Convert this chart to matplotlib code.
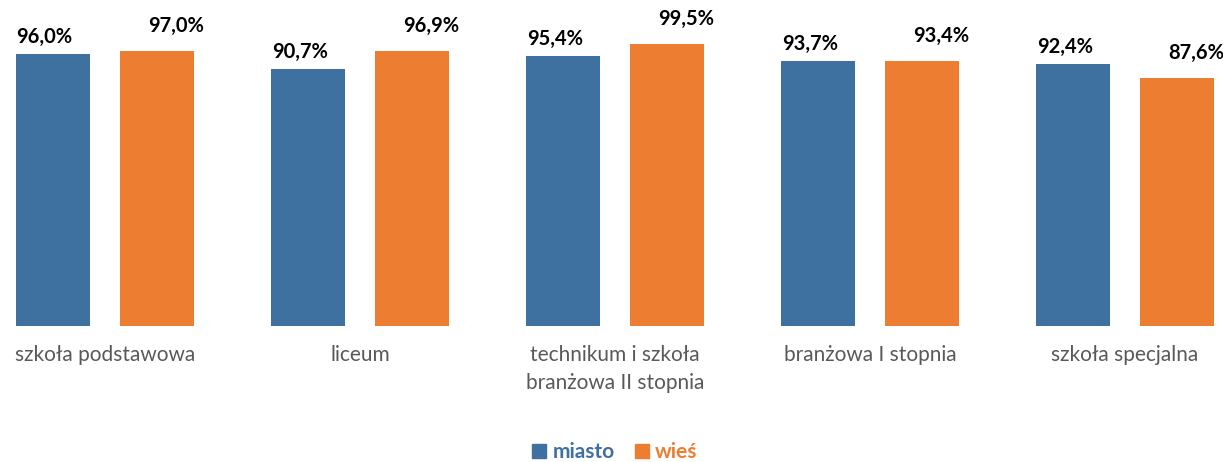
import matplotlib
matplotlib.use("Agg")
import matplotlib.pyplot as plt
from matplotlib.patches import Patch
import numpy as np

plt.rcParams['font.family'] = ['Lato', 'DejaVu Sans']

categories = ["szkoła podstawowa", "liceum", "technikum i szkoła\nbranżowa II stopnia",
              "branżowa I stopnia", "szkoła specjalna"]
miasto = [96.0, 90.7, 95.4, 93.7, 92.4]
wies = [97.0, 96.9, 99.5, 93.4, 87.6]

blue = "#3E70A0"
orange = "#ED7D31"
gray = "#595959"

fig = plt.figure(figsize=(12.23, 4.62), dpi=100)
ax = fig.add_axes([0, 136 / 462, 1, 283.3 / 462])

x = np.arange(len(categories))
w = 0.29
off = 0.204
ax.bar(x - off, miasto, w, color=blue)
ax.bar(x + off, wies, w, color=orange)

def fmt(v):
    return f"{v:.1f}%".replace(".", ",")

# labels sit a bit off-centre, like in the original
for xi, v in zip(x, miasto):
    ax.annotate(fmt(v), (xi - off, v), xytext=(-6, 5), textcoords="offset points",
                ha="center", va="bottom", fontsize=14.5, fontweight="bold", color="black")
for xi, v in zip(x, wies):
    ax.annotate(fmt(v), (xi + off, v), xytext=(14, 11), textcoords="offset points",
                ha="center", va="bottom", fontsize=14.5, fontweight="bold", color="black")

ax.set_xlim(-105 / 255, (1223 - 105) / 255)
ax.set_ylim(0, 100)
ax.set_xticks(x)
ax.set_xticklabels(categories, fontsize=15, color=gray, linespacing=1.45, va="top")
ax.tick_params(axis="x", length=0, pad=14)
ax.set_yticks([])
for s in ax.spines.values():
    s.set_visible(False)

handles = [Patch(color=blue), Patch(color=orange)]
fig.legend(handles, ["miasto", "wieś"], loc="center", bbox_to_anchor=(615 / 1223, 1 - 452 / 462),
           ncol=2, frameon=False, labelcolor=[blue, orange],
           prop={"weight": "bold", "size": 15}, handlelength=0.65, handleheight=0.65,
           handletextpad=0.3, columnspacing=1.0)

fig.savefig("out.png", dpi=100)
